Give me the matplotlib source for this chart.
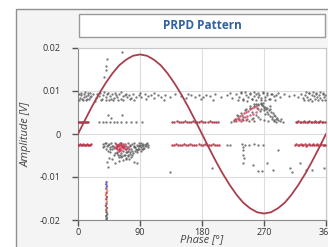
import matplotlib
matplotlib.use("Agg")
import matplotlib.pyplot as plt
from matplotlib.patches import Rectangle
import numpy as np

# reference sine (phase in deg, amplitude in V), read at 10 deg steps
sine_phase = list(range(0, 361, 10))
sine_amp = [0, 0.0032, 0.0063, 0.0092, 0.0118, 0.0141, 0.0160, 0.0173, 0.0182, 0.0185,
            0.0182, 0.0173, 0.0160, 0.0141, 0.0118, 0.0092, 0.0063, 0.0032, 0,
            -0.0032, -0.0063, -0.0092, -0.0118, -0.0141, -0.0160, -0.0173, -0.0182, -0.0185,
            -0.0182, -0.0173, -0.0160, -0.0141, -0.0118, -0.0092, -0.0063, -0.0032, 0]

# upper band of pulses (~9 mV), values in mV
upper_phase = [1, 3, 4, 6, 8, 9, 11, 13, 15, 17, 19, 22, 26, 30, 32, 35, 37, 40, 42, 45,
               47, 50, 52, 55, 57, 60, 63, 65, 68, 71, 74, 77, 80, 84, 88, 92, 97, 101, 106, 111,
               116, 121, 127, 134, 141, 149, 157, 164, 170, 176, 181, 186, 192, 199, 208, 216, 224, 229, 233, 237,
               240, 244, 247, 250, 253, 255, 258, 261, 263, 266, 269, 272, 275, 278, 281, 284, 288, 293, 299, 306,
               313, 319, 324, 327, 330, 332, 335, 337, 340, 342, 345, 347, 350, 352, 355, 357, 359]
upper_amp = [9.2, 8.4, 9.0, 8.1, 9.4, 8.6, 8.9, 8.2, 9.1, 8.5,
             8.8, 9.3, 8.3, 8.9, 9.5, 8.2, 9.0, 8.6, 9.3, 8.0,
             8.8, 9.2, 8.4, 9.0, 8.7, 9.4, 8.1, 8.9, 9.1, 8.5,
             9.0, 8.3, 9.2, 8.7, 9.0, 8.5, 9.3, 8.8, 9.0, 8.4,
             9.1, 8.7, 9.0, 8.6, 9.2, 8.9, 8.3, 9.0, 8.7, 9.1,
             8.5, 9.0, 8.8, 9.3, 8.6, 9.0, 8.4, 9.2, 8.7, 9.5,
             8.2, 9.0, 8.6, 9.3, 8.1, 8.8, 9.4, 8.5, 9.1, 8.3,
             9.6, 8.7, 9.0, 8.2, 9.3, 8.8, 9.0, 8.5, 9.2, 8.9,
             9.0, 8.6, 9.3, 8.4, 9.1, 8.7, 9.5, 8.2, 9.0, 8.8,
             9.3, 8.5, 9.1, 8.3, 9.4, 8.7, 9.0]
upper2_phase = [2, 5, 7, 10, 12, 14, 16, 18, 24, 28, 34, 38, 41, 44, 48, 51, 54, 58, 62, 66,
                70, 75, 82, 90, 99, 110, 125, 160, 178, 196, 221, 232, 236, 239, 243, 246, 249, 252, 256, 259,
                262, 265, 268, 271, 274, 277, 280, 286, 291, 328, 331, 334, 336, 339, 341, 344, 346, 349, 351, 354,
                356, 358]
upper2_amp = [7.8, 9.6, 8.0, 9.7, 7.9, 9.5, 8.1, 9.6, 7.7, 9.4,
              8.0, 9.7, 7.8, 9.6, 8.1, 7.9, 9.5, 8.0, 9.7, 7.8,
              9.4, 8.1, 7.9, 9.6, 8.2, 9.5, 7.9, 9.4, 8.1, 7.8,
              9.5, 7.9, 9.7, 8.0, 9.8, 7.7, 9.6, 8.2, 9.7, 7.9,
              9.5, 8.0, 9.8, 7.8, 9.6, 8.1, 9.4, 7.9, 9.6, 7.8,
              9.7, 8.0, 9.5, 7.7, 9.8, 8.1, 9.6, 7.9, 9.7, 8.0,
              9.5, 7.8]

# dense pulse lines near +/-2.7 mV (red)
line_hi_phase = [0, 1.5, 3, 4.5, 6, 7.5, 9, 10.5, 12, 13.5, 15,
                 137, 140, 143, 146, 149, 152, 155, 158, 161, 164, 167, 170, 173, 176, 179, 182, 185, 188, 191, 194, 197, 200, 203,
                 316, 318, 320, 322, 324, 326, 328, 330, 332, 334, 336, 338, 340, 342, 344, 346, 348, 350, 352, 354, 356, 358]
line_hi_amp = [2.8, 2.9, 2.7, 2.9, 2.8, 2.7, 2.9, 2.8, 2.7, 2.9, 2.8,
               2.9, 2.8, 3.0, 2.9, 2.8, 2.9, 3.0, 2.8, 2.9, 2.8, 3.0, 2.9, 2.8, 2.9, 3.0, 2.8, 2.9, 2.8, 3.0, 2.9, 2.8, 2.9, 2.8,
               2.9, 2.8, 3.0, 2.9, 2.8, 2.9, 3.0, 2.8, 2.9, 2.8, 3.0, 2.9, 2.8, 2.9, 3.0, 2.8, 2.9, 2.8, 3.0, 2.9, 2.8, 2.9]
line_lo_phase = [0, 1.5, 3, 4.5, 6, 7.5, 9, 10.5, 12, 13.5, 15, 16.5, 18, 19.5,
                 136, 139, 142, 145, 148, 151, 154, 157, 160, 163, 166, 169, 172, 175, 178, 181, 184, 187, 190, 193, 196, 199, 202, 205,
                 315, 317, 319, 321, 323, 325, 327, 329, 331, 333, 335, 337, 339, 341, 343, 345, 347, 349, 351, 353, 355, 357, 359]
line_lo_amp = [-2.5, -2.6, -2.4, -2.6, -2.5, -2.4, -2.6, -2.5, -2.6, -2.4, -2.5, -2.6, -2.5, -2.4,
               -2.5, -2.6, -2.4, -2.5, -2.6, -2.5, -2.4, -2.6, -2.5, -2.4, -2.6, -2.5, -2.5, -2.4, -2.6, -2.5, -2.4, -2.6, -2.5, -2.5, -2.4, -2.6, -2.5, -2.5,
               -2.5, -2.4, -2.6, -2.5, -2.3, -2.6, -2.5, -2.4, -2.7, -2.5, -2.4, -2.6, -2.5, -2.3, -2.6, -2.5, -2.4, -2.6, -2.5, -2.4, -2.6, -2.5, -2.5]

# hump of pulses around 265 deg
hump_red_phase = [226, 229, 232, 235, 238, 241, 244, 247, 250, 253, 256, 259, 230, 234, 238, 242, 246, 250, 254, 258, 236, 244, 252, 262]
hump_red_amp = [3.2, 3.5, 3.8, 4.1, 4.5, 4.8, 5.1, 5.4, 5.7, 6.0, 6.2, 6.4, 3.1, 3.3, 3.6, 3.9, 4.2, 4.4, 4.7, 5.0, 3.0, 3.2, 3.4, 5.8]
hump_gray_phase = [262, 265, 268, 271, 274, 277, 280, 283, 286, 289, 260, 266, 270, 275, 272, 278, 282,
                   240, 248, 256, 264, 270, 276, 284, 232, 244, 256, 268, 279, 285, 288, 222, 226, 293, 297,
                   228, 231, 234, 237, 240, 243, 246, 249, 252, 255, 258, 261, 264, 267, 270, 273, 276, 279, 282, 285,
                   288, 291, 295, 250, 258, 266, 262, 254]
hump_gray_amp = [6.7, 6.9, 6.6, 6.3, 6.0, 5.6, 5.2, 4.8, 4.3, 3.8, 6.0, 5.9, 5.5, 5.2, 4.6, 4.3, 3.9,
                 3.2, 3.0, 3.1, 3.4, 3.3, 3.0, 3.1, 4.2, 5.8, 7.0, 7.3, 6.4, 3.2, 2.9, 2.9, 3.0, 3.0, 2.9,
                 3.6, 4.4, 3.5, 4.9, 4.0, 5.6, 3.6, 6.1, 5.0, 6.6, 4.4, 6.9, 5.3, 6.8, 6.0, 5.7, 4.6, 5.9, 3.6, 4.5,
                 3.5, 3.2, 3.4, 6.5, 7.0, 7.1, 4.0, 3.8]

# scattered pulses
sparse_phase = [31, 36, 41, 46, 52, 57, 63, 70, 77, 84, 93, 43, 48, 64,
                216, 220, 238, 242, 248, 256, 262, 269,
                133, 194, 240, 240, 240, 241, 240, 254, 262, 267, 274, 283, 290, 308, 310, 322, 331, 340, 357, 86,
                42, 41, 41, 38, 64, 42, 43]
sparse_amp = [2.8, 2.7, 2.9, 2.8, 2.7, 2.9, 2.8, 2.7, 2.9, 2.8, 2.7, 4.4, 3.7, 4.4,
              -2.5, -2.5, -2.4, -2.6, -2.5, -2.4, -2.6, -2.5,
              -8.8, -7.9, -3.0, -3.7, -4.9, -5.6, -6.7, -7.2, -8.6, -8.6, -6.7, -8.4, -3.7, -7.9, -8.8, -6.7, -8.4, -8.4, -7.9, -6.7,
              17.4, 15.7, 14.9, 13.3, 19.1, -6.6, -7.6]

# negative cluster 35-102 deg
clus_phase = [36, 38, 40, 41, 43, 44, 46, 47, 48, 50, 51, 52, 53, 55, 56, 57, 58, 60, 61, 62,
              63, 64, 66, 67, 68, 69, 70, 71, 72, 73, 74, 75, 76, 77, 78, 79, 80, 81, 82, 83,
              84, 85, 86, 87, 88, 89, 90, 91, 92, 93, 94, 95, 96, 97, 99, 100, 102, 59, 54, 65,
              82, 45, 50,
              37, 39, 42, 45, 47, 49, 52, 54, 56, 59, 61, 63, 65, 67, 69, 71, 73, 75, 77, 79,
              81, 83, 85, 87, 89, 91, 93, 95, 98, 101, 60, 64, 68, 72, 76, 70, 74, 57]
clus_amp = [-2.3, -2.8, -3.4, -2.1, -3.9, -2.6, -3.1, -4.3, -2.2, -3.6, -2.7, -4.8, -2.0, -3.3, -4.1, -2.5, -5.0, -3.8, -2.2, -4.5,
            -5.4, -3.0, -2.4, -4.9, -3.6, -5.6, -2.8, -4.2, -5.1, -2.2, -3.4, -4.6, -2.6, -5.3, -3.9, -2.3, -4.4, -3.0, -2.1, -4.0,
            -3.4, -2.5, -3.8, -2.9, -2.2, -3.5, -2.6, -3.1, -2.1, -3.6, -2.7, -2.3, -3.2, -2.5, -2.9, -2.2, -2.6, -6.2, -6.8, -6.0,
            -6.4, -5.6, -5.8,
            -3.0, -2.2, -2.9, -2.4, -3.5, -2.9, -3.3, -4.4, -2.9, -2.4, -4.8, -2.6, -3.9, -2.9, -4.3, -3.2, -4.0, -2.9, -3.5, -4.8,
            -2.7, -3.1, -4.2, -3.4, -2.8, -4.0, -2.6, -3.4, -2.4, -3.0, -5.3, -5.1, -5.0, -4.8, -4.1, -5.9, -5.7, -4.5]
clus_red_phase = [55, 57, 58, 59, 60, 61, 62, 63, 64, 65, 66, 67, 68, 62, 60, 70, 72, 53, 56]
clus_red_amp = [-2.4, -3.0, -2.6, -3.4, -2.8, -3.2, -2.5, -3.7, -2.9, -3.3, -2.7, -3.1, -2.4, -2.1, -3.9, -3.5, -3.0, -3.0, -3.6]

# vertical streak near 41 deg
streak_phase = [41.5, 41, 42, 41, 42.5, 41.5, 40.5, 42, 41, 42, 41.5, 40.5, 42, 41, 41.5, 42.5, 41, 42, 41.5]
streak_amp = [-11.2, -11.7, -12.2, -12.7, -13.2, -13.7, -14.2, -14.7, -15.2, -15.7, -16.2, -16.7, -17.2, -17.7, -18.2, -18.7, -19.1, -19.5, -19.8]
streak_col = ['#6a6fc4', '#5a66c0', '#7a5fb0', '#8a5aa8', '#e39a4a', '#d04a55', '#e08c40', '#b05070', '#d04050',
              '#e0a050', '#8a5aa8', '#c84a50', '#777777', '#d06040', '#666666', '#777777', '#666666', '#888888', '#666666']

plt.rcParams['font.family'] = ['Open Sans', 'DejaVu Sans']
fig = plt.figure(figsize=(3.28, 2.47), dpi=100)
fig.patch.set_facecolor('white')

W, H = 328.0, 247.0
fig.patches.append(Rectangle((16 / W, -0.1), 1.2, 1 - 9 / H + 0.1, transform=fig.transFigure,
                             facecolor='#f4f4f4', edgecolor='#8f8f8f', lw=1.0, zorder=-3))
fig.patches.append(Rectangle((79 / W, 1 - 37 / H), (325 - 79) / W, 23 / H, transform=fig.transFigure,
                             facecolor='white', edgecolor='#9a9a9a', lw=1.0, zorder=-2))
fig.text(202 / W, 1 - 25.5 / H, 'PRPD Pattern', ha='center', va='center',
         fontsize=8.5, fontweight='bold', color='#2f60a0')

ax = fig.add_axes([78 / W, 1 - 220 / H, 248 / W, 172 / H])
ax.set_facecolor('white')

k = 1e-3
gray = dict(s=2.8, c='#585858', linewidths=0, alpha=0.8, zorder=3)
ax.scatter(upper_phase, np.array(upper_amp) * k, **gray)
ax.scatter(upper2_phase, np.array(upper2_amp) * k, **gray)
ax.scatter(sparse_phase, np.array(sparse_amp) * k, **gray)
ax.scatter(clus_phase, np.array(clus_amp) * k, **gray)
ax.scatter(hump_gray_phase, np.array(hump_gray_amp) * k, **gray)
ax.scatter(hump_red_phase, np.array(hump_red_amp) * k, s=3.2, c='#c8405a', linewidths=0, alpha=0.8, zorder=4)
ax.scatter(clus_red_phase, np.array(clus_red_amp) * k, s=3.2, c='#d83050', linewidths=0, alpha=0.85, zorder=4)
ax.scatter(line_hi_phase, np.array(line_hi_amp) * k, s=3.2, c='#a83a4c', linewidths=0, alpha=0.9, zorder=4)
ax.scatter(line_lo_phase, np.array(line_lo_amp) * k, s=3.2, c='#b8344a', linewidths=0, alpha=0.9, zorder=4)
ax.scatter(streak_phase, np.array(streak_amp) * k, s=3.2, c=streak_col, linewidths=0, zorder=4)

ax.plot(sine_phase, sine_amp, color='#a8404c', lw=1.3, zorder=5)

ax.set_xlim(0, 360)
ax.set_ylim(-0.02, 0.02)
ax.set_xticks([0, 90, 180, 270, 360])
ax.set_xticklabels(['0', '90', '180', '270', '360'])
ax.set_yticks([-0.02, -0.01, 0, 0.01, 0.02])
ax.set_yticklabels(['-0.02', '-0.01', '0', '0.01', '0.02'])
ax.grid(True, color='#dddddd', lw=0.8, zorder=0)
ax.set_axisbelow(True)
ax.tick_params(axis='both', labelsize=6.5, colors='#555555', labelcolor='#333333', length=4.5, width=1)
ax.tick_params(axis='y', pad=8)
ax.tick_params(axis='x', pad=1.5)
for side in ['top', 'right']:
    ax.spines[side].set_color('#c8c8c8')
for side in ['left', 'bottom']:
    ax.spines[side].set_color('#8a8a8a')

fig.text(202 / W, 1 - 239.5 / H, 'Phase [°]', ha='center', va='center', fontsize=8, style='italic', color='#444444')
fig.text(26 / W, 1 - 134 / H, 'Amplitude [V]', ha='center', va='center', fontsize=8, style='italic',
         color='#444444', rotation=90)

fig.savefig('out.png', dpi=100)
